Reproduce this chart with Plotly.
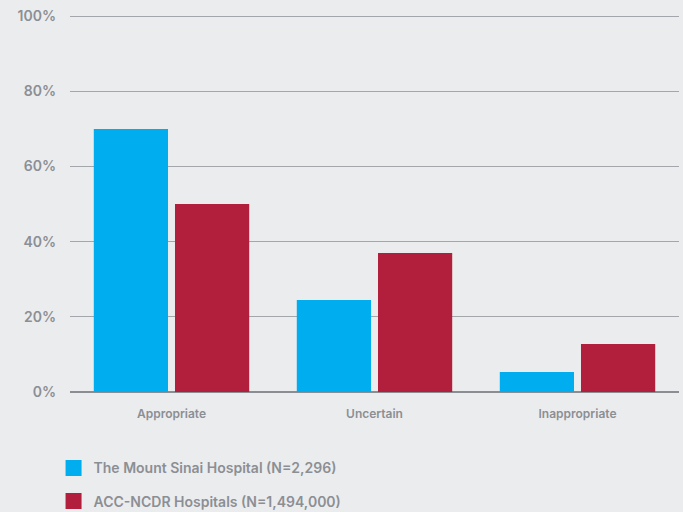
import plotly.graph_objects as go

# ─── Data ─────────────────────────────────────────────────────────────────────
categories = ["Appropriate", "Uncertain", "Inappropriate"]
sinai_pct = [70, 24.5, 5.3]
ncdr_pct = [50, 37, 12.8]
series_names = ["The Mount Sinai Hospital (N=2,296)", "ACC-NCDR Hospitals (N=1,494,000)"]
y_ticks = [0, 20, 40, 60, 80, 100]
y_tick_labels = ["0%", "20%", "40%", "60%", "80%", "100%"]

BLUE = "#00aeef"
RED = "#b21f3c"
BG = "#ebecee"
GREY_TEXT = "#8b8f94"
FONT = "Inter"

fig = go.Figure()
for vals, name, color, grp in [(sinai_pct, series_names[0], BLUE, "a"),
                               (ncdr_pct, series_names[1], RED, "b")]:
    fig.add_trace(go.Bar(
        x=categories, y=vals, name=name,
        marker=dict(color=color, line=dict(width=0)),
        showlegend=False, legendgroup=grp,
    ))
    # legend-only entry with a bigger square swatch
    fig.add_trace(go.Scatter(
        x=[None], y=[None], mode="markers", name=name,
        marker=dict(symbol="square", size=16, color=color),
        legendgroup=grp, showlegend=True,
    ))

fig.update_layout(
    width=683, height=512,
    paper_bgcolor=BG, plot_bgcolor=BG,
    margin=dict(l=70, r=4, t=15, b=120, autoexpand=False),
    barmode="group",
    bargap=0.2,
    bargroupgap=0.086,
    font=dict(family=FONT, color=GREY_TEXT),
    showlegend=True,
    legend=dict(
        orientation="v", x=-0.027, xref="paper", y=-0.16, yanchor="top",
        xanchor="left",
        traceorder="grouped", tracegroupgap=12,
        font=dict(size=14, color=GREY_TEXT, family=FONT, weight=600),
        bgcolor="rgba(0,0,0,0)", itemwidth=30,
    ),
    xaxis=dict(
        showgrid=False, showline=False, ticks="",
        tickfont=dict(size=12, color=GREY_TEXT, family=FONT, weight=600),
        ticklabelstandoff=13,
    ),
    yaxis=dict(
        range=[0, 100.3],
        tickvals=y_ticks, ticktext=y_tick_labels,
        showgrid=True, gridcolor="#a3a6aa", gridwidth=1,
        zeroline=True, zerolinecolor="#8a8d91", zerolinewidth=2,
        showline=False, ticks="",
        tickfont=dict(size=14, color=GREY_TEXT, family=FONT, weight=600),
        ticklabelstandoff=13,
    ),
)

fig.write_html("out.html", config={"displayModeBar": False},
               post_script="document.body.style.margin='0';")
